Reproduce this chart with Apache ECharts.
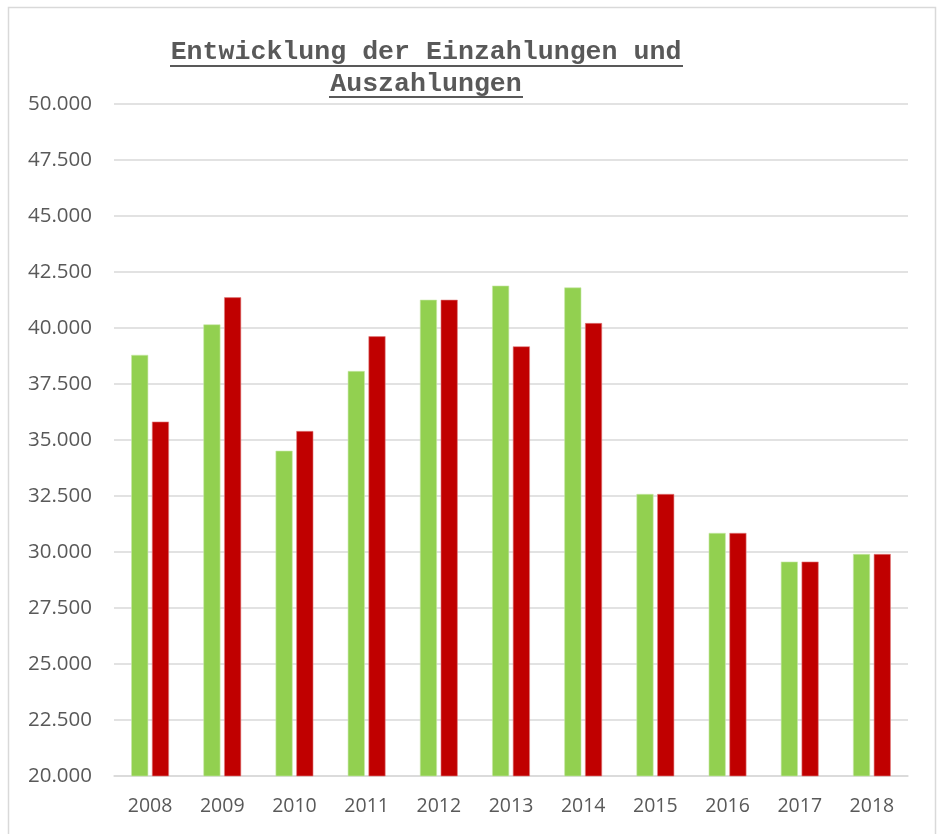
<!DOCTYPE html>
<html><head><meta charset="utf-8">
<script src="https://cdn.jsdelivr.net/npm/echarts@6/dist/echarts.min.js"></script>
<style>html,body{margin:0;padding:0;background:#fff}#c{width:948px;height:834px}</style>
</head><body><div id="c"></div>
<script>
const categories = ['2008','2009','2010','2011','2012','2013','2014','2015','2016','2017','2018'];
const einzahlungen = [38800, 40160, 34520, 38080, 41260, 41890, 41810, 32590, 30850, 29570, 29910];
const auszahlungen = [35820, 41370, 35400, 39630, 41260, 39180, 40220, 32590, 30850, 29570, 29910];
const yMin = 20000, yMax = 50000, yStep = 2500;
const titleLines = ['Entwicklung der Einzahlungen und', 'Auszahlungen'];

const chart = echarts.init(document.getElementById('c'));
const fmtY = v => { const s = String(v/1000); const [a,b=''] = s.split('.'); return a + '.' + (b + '000').slice(0,3); };
const tFont = '"Liberation Mono", "DejaVu Sans Mono", monospace';
const lFont = '"Open Sans", "Liberation Sans", sans-serif';
chart.setOption({
  backgroundColor: '#fff',
  animation: false,
  graphic: [
    {type:'rect', shape:{x:8.5,y:7.5,width:927,height:840}, style:{fill:'none', stroke:'#D9D9D9', lineWidth:1.5}},
    {type:'text', x:426, y:52, style:{text:titleLines[0], font:'bold 26.6px ' + tFont, fill:'#595959', align:'center', verticalAlign:'middle'}},
    {type:'line', shape:{x1:170,y1:66,x2:683,y2:66}, style:{stroke:'#595959', lineWidth:2}},
    {type:'text', x:426, y:84, style:{text:titleLines[1], font:'bold 26.6px ' + tFont, fill:'#595959', align:'center', verticalAlign:'middle'}},
    {type:'line', shape:{x1:329,y1:97,x2:523,y2:97}, style:{stroke:'#595959', lineWidth:2}}
  ],
  grid: {left:114, right:40, top:104, bottom:58},
  xAxis: {
    type:'category', data:categories,
    axisLine:{lineStyle:{color:'#D9D9D9', width:1.5}},
    axisTick:{show:false},
    axisLabel:{color:'#595959', fontSize:19.5, fontFamily:lFont, margin:20}
  },
  yAxis: {
    type:'value', min:yMin, max:yMax, interval:yStep,
    axisLine:{show:false}, axisTick:{show:false},
    splitLine:{lineStyle:{color:'#D9D9D9', width:1.5}},
    axisLabel:{color:'#595959', fontSize:20.5, fontFamily:lFont, margin:22, formatter:fmtY}
  },
  series: [
    {name:'Einzahlungen', type:'bar', data:einzahlungen, barWidth:17, barGap:'22%',
     itemStyle:{color:'#92D050', borderColor:'#C8E8A8', borderWidth:0.6}},
    {name:'Auszahlungen', type:'bar', data:auszahlungen, barWidth:17,
     itemStyle:{color:'#C00000', borderColor:'#E08080', borderWidth:0.6}}
  ]
});
</script></body></html>
